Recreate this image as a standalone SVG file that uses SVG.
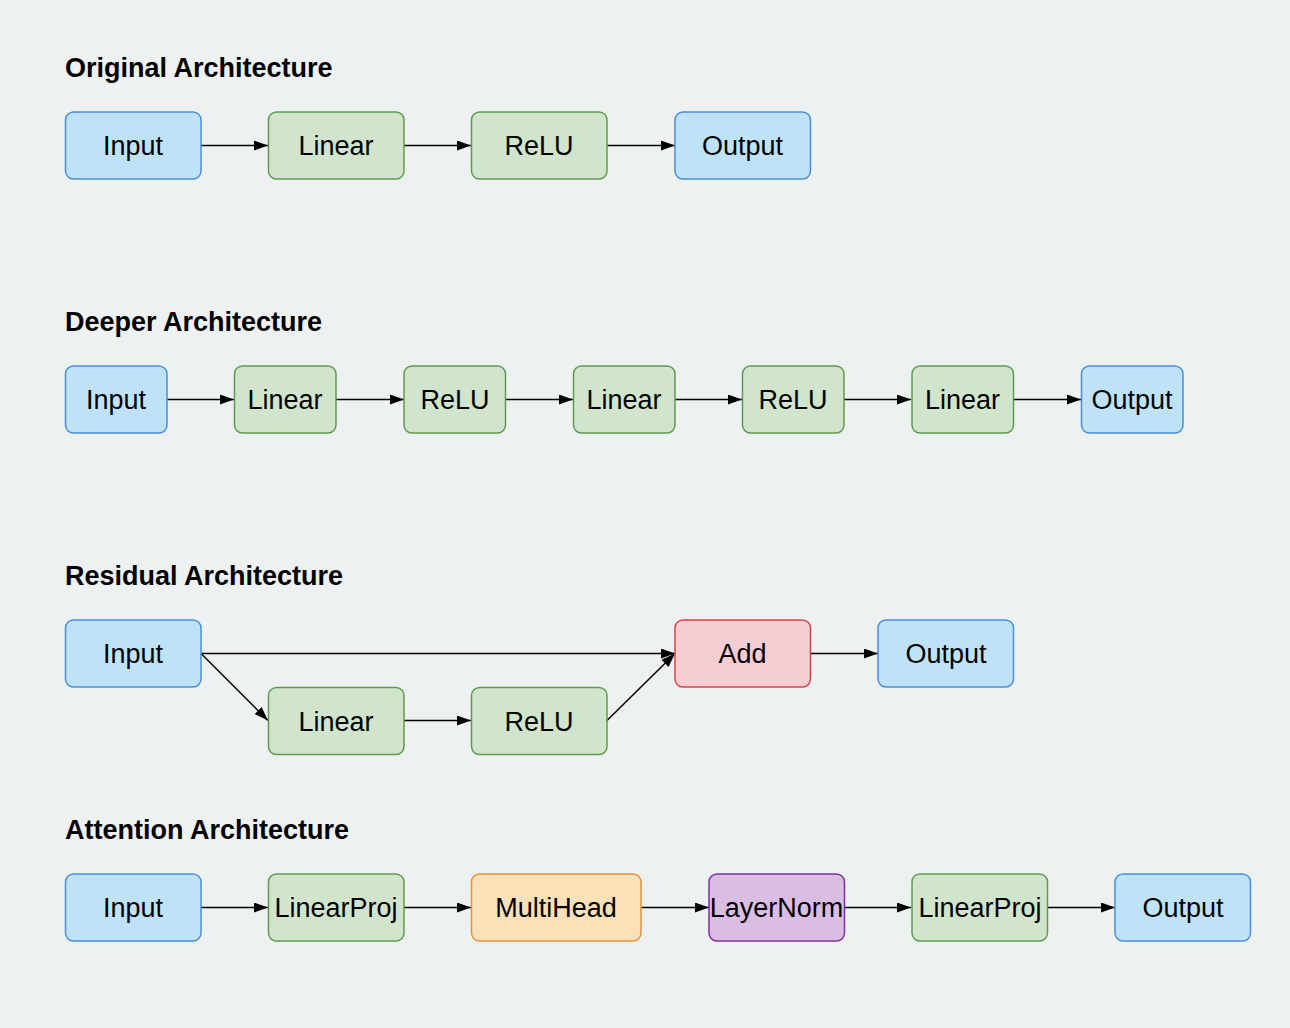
<svg xmlns="http://www.w3.org/2000/svg" width="1290" height="1028" viewBox="0 0 1290 1028">
<style>
.bg{fill:#eef1f2}
.title{font-family:"Liberation Sans",Arial,sans-serif;font-weight:bold;font-size:27px;fill:#000}
.lbl{font-family:"Liberation Sans",Arial,sans-serif;font-size:27px;fill:#000;text-anchor:middle;dominant-baseline:central}
.box{stroke-width:1.5}
.blue{fill:#bee3f8;stroke:#4a90d9}
.green{fill:#d0e5cb;stroke:#5f9b4f}
.orange{fill:#fbe1b8;stroke:#e8913a}
.purple{fill:#dbbde3;stroke:#7e2fa0}
.red{fill:#f6cdd3;stroke:#d64545}
.edge{stroke:#000;stroke-width:1.5;fill:none;marker-end:url(#ah)}
</style>
<defs>
<marker id="ah" viewBox="0 0 14 10" refX="14" refY="5" markerWidth="14" markerHeight="10" markerUnits="userSpaceOnUse" orient="auto">
<path d="M0,0 L14,5 L0,10 z" fill="#000"/>
</marker>
</defs>
<rect class="bg" x="0" y="0" width="1290" height="1028"/>

<text class="title" x="65" y="77">Original Architecture</text>
<text class="title" x="65" y="331">Deeper Architecture</text>
<text class="title" x="65" y="585">Residual Architecture</text>
<text class="title" x="65" y="839">Attention Architecture</text>

<g id="connectors">
<line class="edge" x1="201" y1="145.5" x2="268" y2="145.5"/>
<line class="edge" x1="404" y1="145.5" x2="471" y2="145.5"/>
<line class="edge" x1="607" y1="145.5" x2="675" y2="145.5"/>

<line class="edge" x1="167" y1="399.5" x2="234" y2="399.5"/>
<line class="edge" x1="336" y1="399.5" x2="404" y2="399.5"/>
<line class="edge" x1="506" y1="399.5" x2="573" y2="399.5"/>
<line class="edge" x1="675" y1="399.5" x2="742" y2="399.5"/>
<line class="edge" x1="844" y1="399.5" x2="911" y2="399.5"/>
<line class="edge" x1="1014" y1="399.5" x2="1081" y2="399.5"/>

<line class="edge" x1="201" y1="653.5" x2="675" y2="653.5"/>
<line class="edge" x1="201" y1="653.5" x2="268" y2="720.5"/>
<line class="edge" x1="404" y1="720.5" x2="471" y2="720.5"/>
<line class="edge" x1="607" y1="720.5" x2="675" y2="653.5"/>
<line class="edge" x1="810" y1="653.5" x2="878" y2="653.5"/>

<line class="edge" x1="201" y1="907.5" x2="268" y2="907.5"/>
<line class="edge" x1="404" y1="907.5" x2="471" y2="907.5"/>
<line class="edge" x1="641" y1="907.5" x2="709" y2="907.5"/>
<line class="edge" x1="844" y1="907.5" x2="911" y2="907.5"/>
<line class="edge" x1="1047" y1="907.5" x2="1115" y2="907.5"/>
</g>

<g id="o_input"><rect class="box blue" x="65.5" y="112" width="135.5" height="67" rx="8"/><text class="lbl" x="133" y="146">Input</text></g>
<g id="o_linear"><rect class="box green" x="268.5" y="112" width="135.5" height="67" rx="8"/><text class="lbl" x="336" y="146">Linear</text></g>
<g id="o_relu"><rect class="box green" x="471.5" y="112" width="135.5" height="67" rx="8"/><text class="lbl" x="539" y="146">ReLU</text></g>
<g id="o_output"><rect class="box blue" x="675" y="112" width="135.5" height="67" rx="8"/><text class="lbl" x="742.5" y="146">Output</text></g>

<g id="d_input"><rect class="box blue" x="65.5" y="366" width="101.5" height="67" rx="8"/><text class="lbl" x="116" y="400">Input</text></g>
<g id="d_linear1"><rect class="box green" x="234.5" y="366" width="101.5" height="67" rx="8"/><text class="lbl" x="285" y="400">Linear</text></g>
<g id="d_relu1"><rect class="box green" x="404" y="366" width="101.5" height="67" rx="8"/><text class="lbl" x="455" y="400">ReLU</text></g>
<g id="d_linear2"><rect class="box green" x="573.5" y="366" width="101.5" height="67" rx="8"/><text class="lbl" x="624" y="400">Linear</text></g>
<g id="d_relu2"><rect class="box green" x="742.5" y="366" width="101.5" height="67" rx="8"/><text class="lbl" x="793" y="400">ReLU</text></g>
<g id="d_linear3"><rect class="box green" x="912" y="366" width="101.5" height="67" rx="8"/><text class="lbl" x="962.5" y="400">Linear</text></g>
<g id="d_output"><rect class="box blue" x="1081.5" y="366" width="101.5" height="67" rx="8"/><text class="lbl" x="1132" y="400">Output</text></g>

<g id="r_input"><rect class="box blue" x="65.5" y="620" width="135.5" height="67" rx="8"/><text class="lbl" x="133" y="654">Input</text></g>
<g id="r_linear"><rect class="box green" x="268.5" y="687.5" width="135.5" height="67" rx="8"/><text class="lbl" x="336" y="721.5">Linear</text></g>
<g id="r_relu"><rect class="box green" x="471.5" y="687.5" width="135.5" height="67" rx="8"/><text class="lbl" x="539" y="721.5">ReLU</text></g>
<g id="r_add"><rect class="box red" x="675" y="620" width="135.5" height="67" rx="8"/><text class="lbl" x="742.5" y="654">Add</text></g>
<g id="r_output"><rect class="box blue" x="878" y="620" width="135.5" height="67" rx="8"/><text class="lbl" x="946" y="654">Output</text></g>

<g id="a_input"><rect class="box blue" x="65.5" y="874" width="135.5" height="67" rx="8"/><text class="lbl" x="133" y="908">Input</text></g>
<g id="a_linearproj1"><rect class="box green" x="268.5" y="874" width="135.5" height="67" rx="8"/><text class="lbl" x="336" y="908">LinearProj</text></g>
<g id="a_multihead"><rect class="box orange" x="471.5" y="874" width="169.5" height="67" rx="8"/><text class="lbl" x="556" y="908">MultiHead</text></g>
<g id="a_layernorm"><rect class="box purple" x="709" y="874" width="135.5" height="67" rx="8"/><text class="lbl" x="776.5" y="908">LayerNorm</text></g>
<g id="a_linearproj2"><rect class="box green" x="912" y="874" width="135.5" height="67" rx="8"/><text class="lbl" x="980" y="908">LinearProj</text></g>
<g id="a_output"><rect class="box blue" x="1115" y="874" width="135.5" height="67" rx="8"/><text class="lbl" x="1183" y="908">Output</text></g>
</svg>
